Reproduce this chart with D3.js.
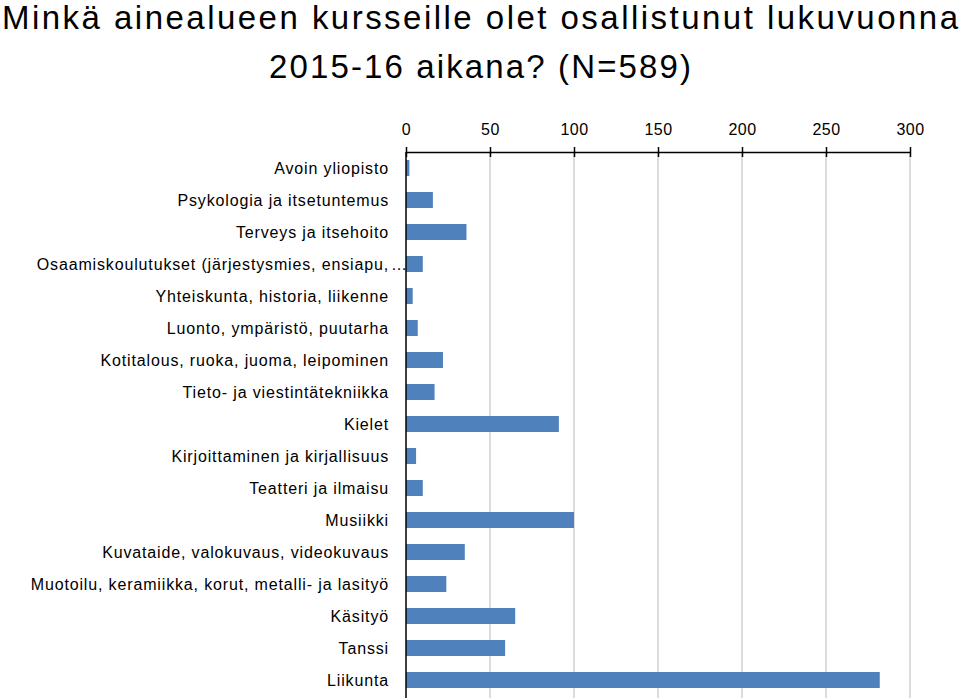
<!DOCTYPE html>
<html>
<head>
<meta charset="utf-8">
<script src="https://cdn.jsdelivr.net/npm/d3@7"></script>
<style>
  body { margin: 0; background: #fff; }
  svg { display: block; font-family: "Liberation Sans", Arial, sans-serif; }
</style>
</head>
<body>
<svg id="chart" width="960" height="698"></svg>
<script>
// data
const categories = [
  "Avoin yliopisto",
  "Psykologia ja itsetuntemus",
  "Terveys ja itsehoito",
  "Osaamiskoulutukset (järjestysmies, ensiapu,",
  "Yhteiskunta, historia, liikenne",
  "Luonto, ympäristö, puutarha",
  "Kotitalous, ruoka, juoma, leipominen",
  "Tieto- ja viestintätekniikka",
  "Kielet",
  "Kirjoittaminen ja kirjallisuus",
  "Teatteri ja ilmaisu",
  "Musiikki",
  "Kuvataide, valokuvaus, videokuvaus",
  "Muotoilu, keramiikka, korut, metalli- ja lasityö",
  "Käsityö",
  "Tanssi",
  "Liikunta"
];
const values = [2, 16, 36, 10, 4, 7, 22, 17, 91, 6, 10, 100, 35, 24, 65, 59, 282];
const xTicks = [0, 50, 100, 150, 200, 250, 300];
const titleLines = ["Minkä ainealueen kursseille olet osallistunut lukuvuonna", "2015-16 aikana? (N=589)"];

const margin = { top: 152, left: 406 };
const width = 504;
const height = 544;

const svg = d3.select("#chart");

// title, stretched out like the original
const titleWidths = [956, 422];
svg.append("g")
  .selectAll("text")
  .data(titleLines)
  .join("text")
  .attr("x", 480)
  .attr("y", (d, i) => 29 + i * 49)
  .attr("text-anchor", "middle")
  .attr("font-size", 33)
  .attr("textLength", (d, i) => titleWidths[i])
  .attr("lengthAdjust", "spacing")
  .attr("fill", "#000")
  .text(d => d);

const x = d3.scaleLinear().domain([0, 300]).range([0, width]);
const y = d3.scaleBand().domain(categories).range([0, height])
  .paddingInner(0.5).paddingOuter(0.25);

const g = svg.append("g").attr("transform", `translate(${margin.left},${margin.top})`);

// grid
g.append("g")
  .selectAll("line")
  .data(xTicks.slice(1))
  .join("line")
  .attr("x1", d => x(d)).attr("x2", d => x(d))
  .attr("y1", 0).attr("y2", height + 2)
  .attr("stroke", "#d0d0d0")
  .attr("stroke-width", 1.5);

// bars
g.append("g")
  .selectAll("rect")
  .data(values)
  .join("rect")
  .attr("x", 0)
  .attr("y", (d, i) => y(categories[i]))
  .attr("width", d => x(d))
  .attr("height", y.bandwidth())
  .attr("fill", "#4f81bd");

// top axis
const xAxisG = g.append("g")
  .call(d3.axisTop(x).tickValues(xTicks).tickSize(5).tickSizeOuter(0).tickPadding(12));
xAxisG.select(".domain").attr("stroke", "#000").attr("stroke-width", 1.5);
xAxisG.selectAll(".tick line").attr("stroke", "#000").attr("stroke-width", 1.5).attr("y2", -5).attr("y1", 5);
xAxisG.selectAll(".tick text")
  .attr("font-size", 16)
  .attr("font-family", "Liberation Sans, Arial, sans-serif")
  .attr("letter-spacing", "0.5px")
  .attr("fill", "#000");

// left axis line
g.append("line")
  .attr("x1", 0).attr("x2", 0)
  .attr("y1", 0).attr("y2", height + 2)
  .attr("stroke", "#000")
  .attr("stroke-width", 1.5);

// category labels
g.append("g")
  .selectAll("text")
  .data(categories)
  .join("text")
  .attr("x", -17)
  .attr("y", d => y(d) + y.bandwidth() / 2)
  .attr("dy", "0.35em")
  .attr("text-anchor", "end")
  .attr("font-size", 16)
  .attr("letter-spacing", "0.85px")
  .attr("fill", "#000")
  .text(d => d);

// truncated label gets its ellipsis past the anchor
g.append("text")
  .attr("x", -15)
  .attr("y", y(categories[3]) + y.bandwidth() / 2)
  .attr("dy", "0.35em")
  .attr("font-size", 16)
  .attr("fill", "#000")
  .text("…");
</script>
</body>
</html>
